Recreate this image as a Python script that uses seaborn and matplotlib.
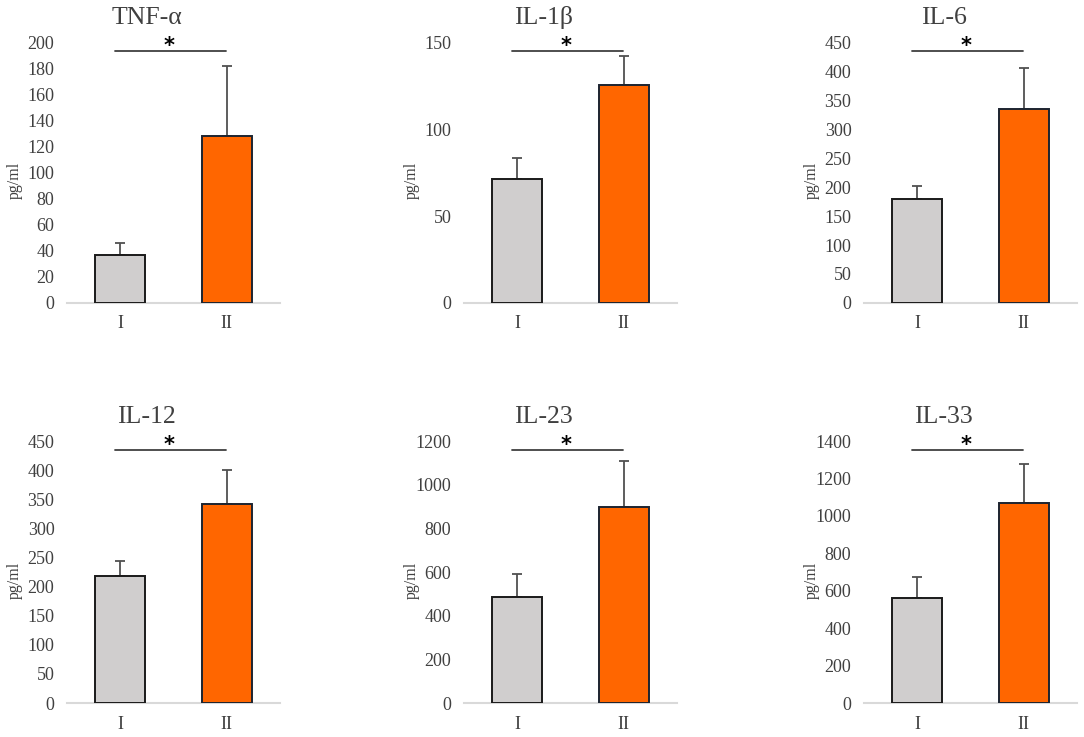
import matplotlib
matplotlib.use("Agg")
import matplotlib.pyplot as plt
import seaborn as sns
import pandas as pd

# ---- data ----
cytokines = ["TNF-α", "IL-1β", "IL-6", "IL-12", "IL-23", "IL-33"]
groups = ["I", "II"]
means_I = [37.0, 71.1, 178.7, 218.4, 484.6, 563.6]
means_II = [127.7, 125.1, 334.5, 342.0, 897.0, 1070.0]
err_I = [9.2, 12.4, 22.4, 25.6, 107.0, 108.0]
err_II = [53.6, 16.7, 70.5, 57.6, 211.0, 207.0]
y_max = [200, 150, 450, 450, 1200, 1400]
y_step = [20, 50, 50, 50, 200, 200]
significance = ["*", "*", "*", "*", "*", "*"]
y_label = "pg/ml"

sns.set_theme(style="white")
plt.rcParams["font.family"] = ["Liberation Serif", "DejaVu Serif"]

TEXT = "#404040"
colors = {"I": "#D0CECE", "II": "#FF6600"}
edges = ["#1a1a1a", "#1C2430"]

fig = plt.figure(figsize=(10.84, 7.37), dpi=100)

lefts = [0.0618, 0.428, 0.797]
bottoms = [0.5889, 0.0461]
heights = [0.354, 0.3555]
width = 0.1965

for i, name in enumerate(cytokines):
    r, c = divmod(i, 3)
    ax = fig.add_axes([lefts[c], bottoms[r], width, heights[r]])
    df = pd.DataFrame({"group": groups, "value": [means_I[i], means_II[i]]})
    sns.barplot(data=df, x="group", y="value", hue="group", palette=colors,
                order=groups, hue_order=groups, width=0.47, legend=False,
                saturation=1, ax=ax, zorder=3)
    for p, ec in zip(ax.patches, edges):
        p.set_edgecolor(ec)
        p.set_linewidth(1.4)
    ax.errorbar([0, 1], [means_I[i], means_II[i]],
                yerr=[[0, 0], [err_I[i], err_II[i]]], fmt="none",
                ecolor="#505050", elinewidth=1.3, capsize=3.3, capthick=1.3,
                zorder=2)
    ax.set_xlim(-0.5, 1.5)
    ax.set_ylim(0, y_max[i])
    ax.set_yticks(list(range(0, y_max[i] + 1, y_step[i])))
    ax.tick_params(axis="y", length=0, pad=9, labelsize=13, labelcolor=TEXT)
    ax.tick_params(axis="x", length=0, pad=9, labelsize=13, labelcolor=TEXT)
    for s in ["left", "right", "top"]:
        ax.spines[s].set_visible(False)
    ax.spines["bottom"].set_color("#D9D9D9")
    ax.spines["bottom"].set_linewidth(1.5)
    ax.set_xlabel("")
    ax.set_ylabel(y_label, fontsize=11.5, color=TEXT)
    ax.yaxis.set_label_coords(-0.207, 0.47)
    ax.text(0.375, 1.069, name, transform=ax.transAxes, ha="center",
            va="baseline", fontsize=18.5, color=TEXT)
    tr = ax.get_xaxis_transform()
    ax.plot([-0.05, 0.99], [0.966, 0.966], transform=tr, color=TEXT,
            lw=1.3, clip_on=False)
    ax.text(0.46, 0.985, significance[i], transform=tr, ha="center",
            va="center", fontsize=15, fontweight="bold", color="black",
            family="DejaVu Sans")

fig.savefig("out.png", dpi=100)
